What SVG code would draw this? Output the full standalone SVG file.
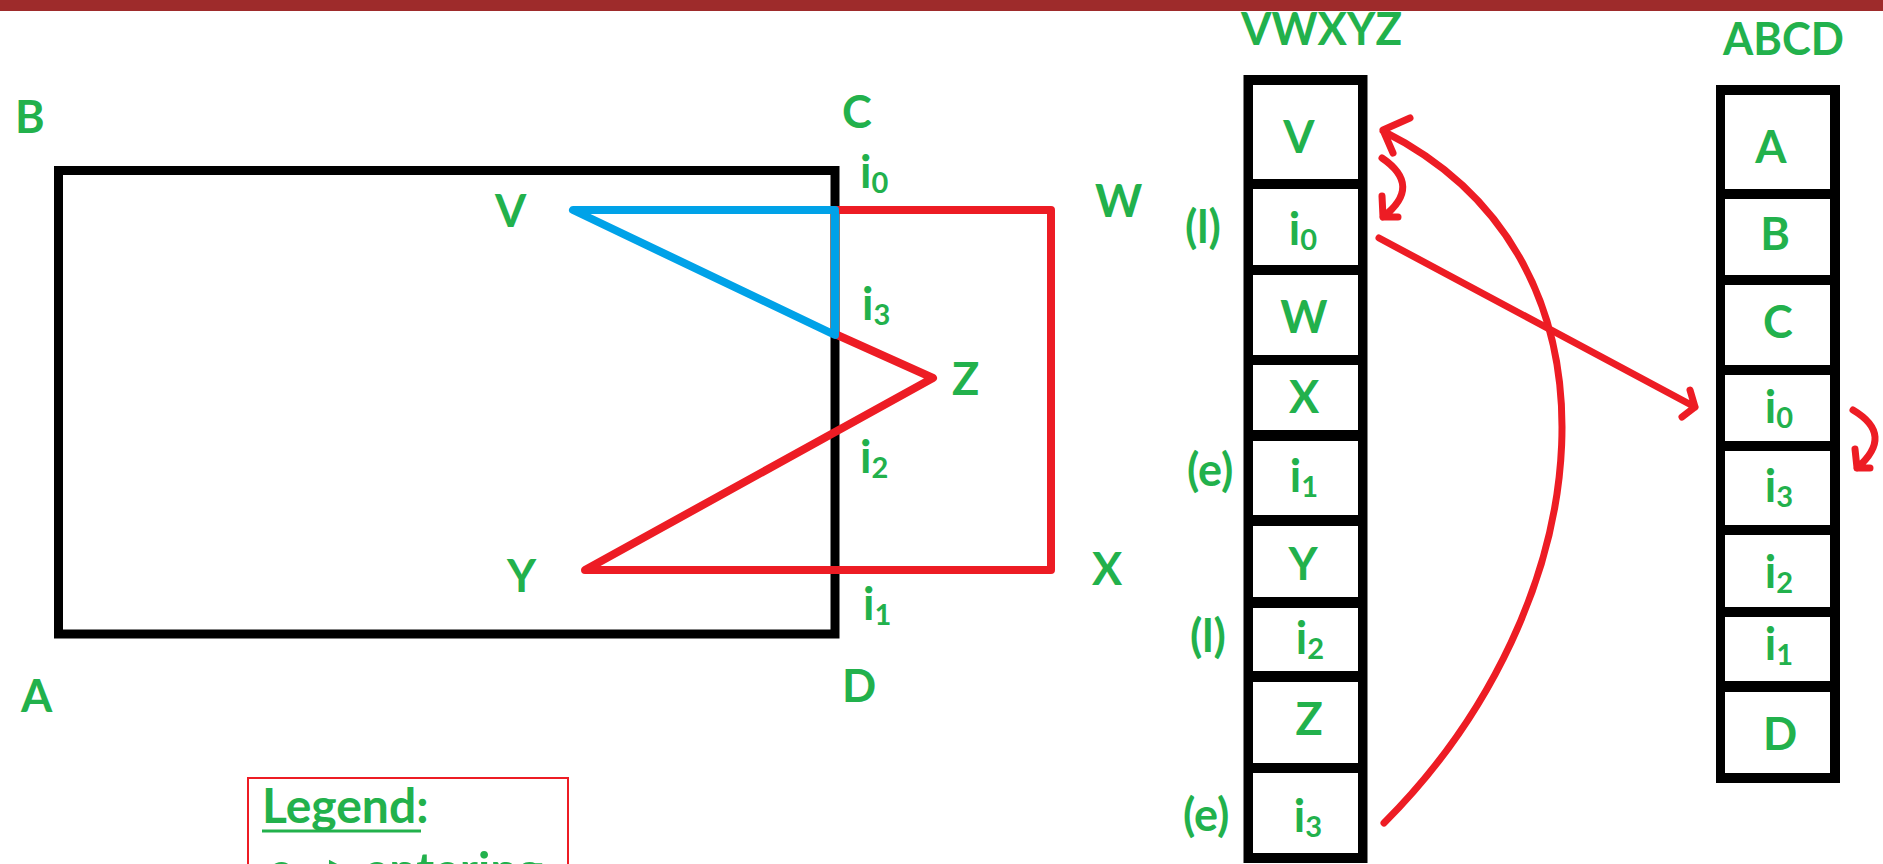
<svg xmlns="http://www.w3.org/2000/svg" width="1883" height="864" viewBox="0 0 1883 864">
<style>
  text { font-family: Lato, "Liberation Sans", sans-serif; font-weight: bold; fill: #22B14C; font-size: 45px; }
  .sub { font-size: 29px; }
  .mid { text-anchor: middle; }
  .box { fill: none; stroke: #000; stroke-width: 9; }
  .stack { fill: #000; }
  .cell { fill: #fff; }
  .red { fill: none; stroke: #ED1C24; stroke-width: 8; stroke-linejoin: round; stroke-linecap: round; }
  .blue { fill: none; stroke: #00A2E8; stroke-width: 8; stroke-linejoin: round; stroke-linecap: round; }
  .arrow { fill: none; stroke: #ED1C24; stroke-width: 7; stroke-linecap: round; stroke-linejoin: round; }
</style>
<rect width="1883" height="864" fill="#fff"/>

<g id="clip-window">
  <rect class="box" x="58.5" y="170.5" width="776.5" height="463.5"/>
  <text x="15" y="133">B</text>
  <text x="842" y="128">C</text>
  <text x="21" y="712">A</text>
  <text x="842" y="702">D</text>
</g>

<g id="connectors">
  <path id="subject-polygon" class="red" d="M835,210 L1051,210 L1051,570 L585,570 L933,378 L835,334"/>
  <path id="clipped-polygon" class="blue" d="M573,210 L835,210 L835,335 Z"/>
  <path id="arc-i3-to-V" class="arrow" d="M1384,823 C1599,608 1643,261 1383,131 M1383,130 L1410,118 M1383,130 L1393,153"/>
  <path id="arrow-V-to-i0" class="arrow" d="M1382,158 Q1423,186 1383,217 M1383,217 L1382,196 M1383,217 L1398,217"/>
  <path id="arrow-i0-to-ABCD" class="arrow" d="M1379,238 L1695,407 M1695,407 L1690,390 M1695,407 L1682,417"/>
  <path id="arrow-i0-to-i3" class="arrow" d="M1853,410 Q1895,435 1857,468 M1857,468 L1855,449 M1857,468 L1870,468"/>
</g>

<g id="point-labels">
  <text x="495" y="227">V</text>
  <text x="1095" y="217">W</text>
  <text x="1092" y="585">X</text>
  <text x="507" y="592">Y</text>
  <text x="952" y="395">Z</text>
  <text x="860" y="188">i<tspan class="sub" dy="5">0</tspan></text>
  <text x="862" y="320">i<tspan class="sub" dy="5">3</tspan></text>
  <text x="860" y="473">i<tspan class="sub" dy="5">2</tspan></text>
  <text x="863" y="620">i<tspan class="sub" dy="5">1</tspan></text>
</g>

<g id="list-VWXYZ">
  <text x="1241" y="45" textLength="161" lengthAdjust="spacingAndGlyphs">VWXYZ</text>
  <rect class="stack" x="1243.5" y="75" width="124" height="788"/>
  <rect class="cell" x="1253" y="85" width="105" height="94"/>
  <rect class="cell" x="1253" y="189" width="105" height="76"/>
  <rect class="cell" x="1253" y="275" width="105" height="80"/>
  <rect class="cell" x="1253" y="365" width="105" height="65"/>
  <rect class="cell" x="1253" y="441" width="105" height="74"/>
  <rect class="cell" x="1253" y="526" width="105" height="71"/>
  <rect class="cell" x="1253" y="608" width="105" height="63"/>
  <rect class="cell" x="1253" y="682" width="105" height="81"/>
  <rect class="cell" x="1253" y="773" width="105" height="80"/>
  <text class="mid" x="1299" y="153">V</text>
  <text class="mid" x="1303" y="245">i<tspan class="sub" dy="5">0</tspan></text>
  <text class="mid" x="1304" y="333">W</text>
  <text class="mid" x="1304" y="413">X</text>
  <text class="mid" x="1304" y="492">i<tspan class="sub" dy="5">1</tspan></text>
  <text class="mid" x="1303" y="580">Y</text>
  <text class="mid" x="1310" y="654">i<tspan class="sub" dy="5">2</tspan></text>
  <text class="mid" x="1309" y="735">Z</text>
  <text class="mid" x="1308" y="832">i<tspan class="sub" dy="5">3</tspan></text>
  <text x="1185" y="243">(l)</text>
  <text x="1187" y="486">(e)</text>
  <text x="1190" y="652">(l)</text>
  <text x="1183" y="831">(e)</text>
</g>

<g id="list-ABCD">
  <text x="1723" y="55" textLength="121" lengthAdjust="spacingAndGlyphs">ABCD</text>
  <rect class="stack" x="1716" y="85" width="124" height="698"/>
  <rect class="cell" x="1725" y="95" width="105" height="94"/>
  <rect class="cell" x="1725" y="199" width="105" height="76"/>
  <rect class="cell" x="1725" y="285" width="105" height="80"/>
  <rect class="cell" x="1725" y="375" width="105" height="66"/>
  <rect class="cell" x="1725" y="451" width="105" height="74"/>
  <rect class="cell" x="1725" y="535" width="105" height="72"/>
  <rect class="cell" x="1725" y="617" width="105" height="64"/>
  <rect class="cell" x="1725" y="692" width="105" height="81"/>
  <text class="mid" x="1771" y="163">A</text>
  <text class="mid" x="1775" y="250">B</text>
  <text class="mid" x="1778" y="338">C</text>
  <text class="mid" x="1779" y="423">i<tspan class="sub" dy="5">0</tspan></text>
  <text class="mid" x="1779" y="502">i<tspan class="sub" dy="5">3</tspan></text>
  <text class="mid" x="1779" y="588">i<tspan class="sub" dy="5">2</tspan></text>
  <text class="mid" x="1779" y="660">i<tspan class="sub" dy="5">1</tspan></text>
  <text class="mid" x="1780" y="750">D</text>
</g>

<g id="legend">
  <rect x="248" y="778" width="320" height="120" fill="none" stroke="#ED1C24" stroke-width="2"/>
  <text x="262" y="823" style="font-size:48px">Legend:</text>
  <line x1="262" y1="831" x2="421" y2="831" stroke="#22B14C" stroke-width="3"/>
  <text x="268" y="887" style="font-size:48px" textLength="275" lengthAdjust="spacingAndGlyphs">e -&gt; entering</text>
</g>

<rect id="top-bar" x="0" y="0" width="1883" height="11" fill="#9E2B2B"/>
</svg>
